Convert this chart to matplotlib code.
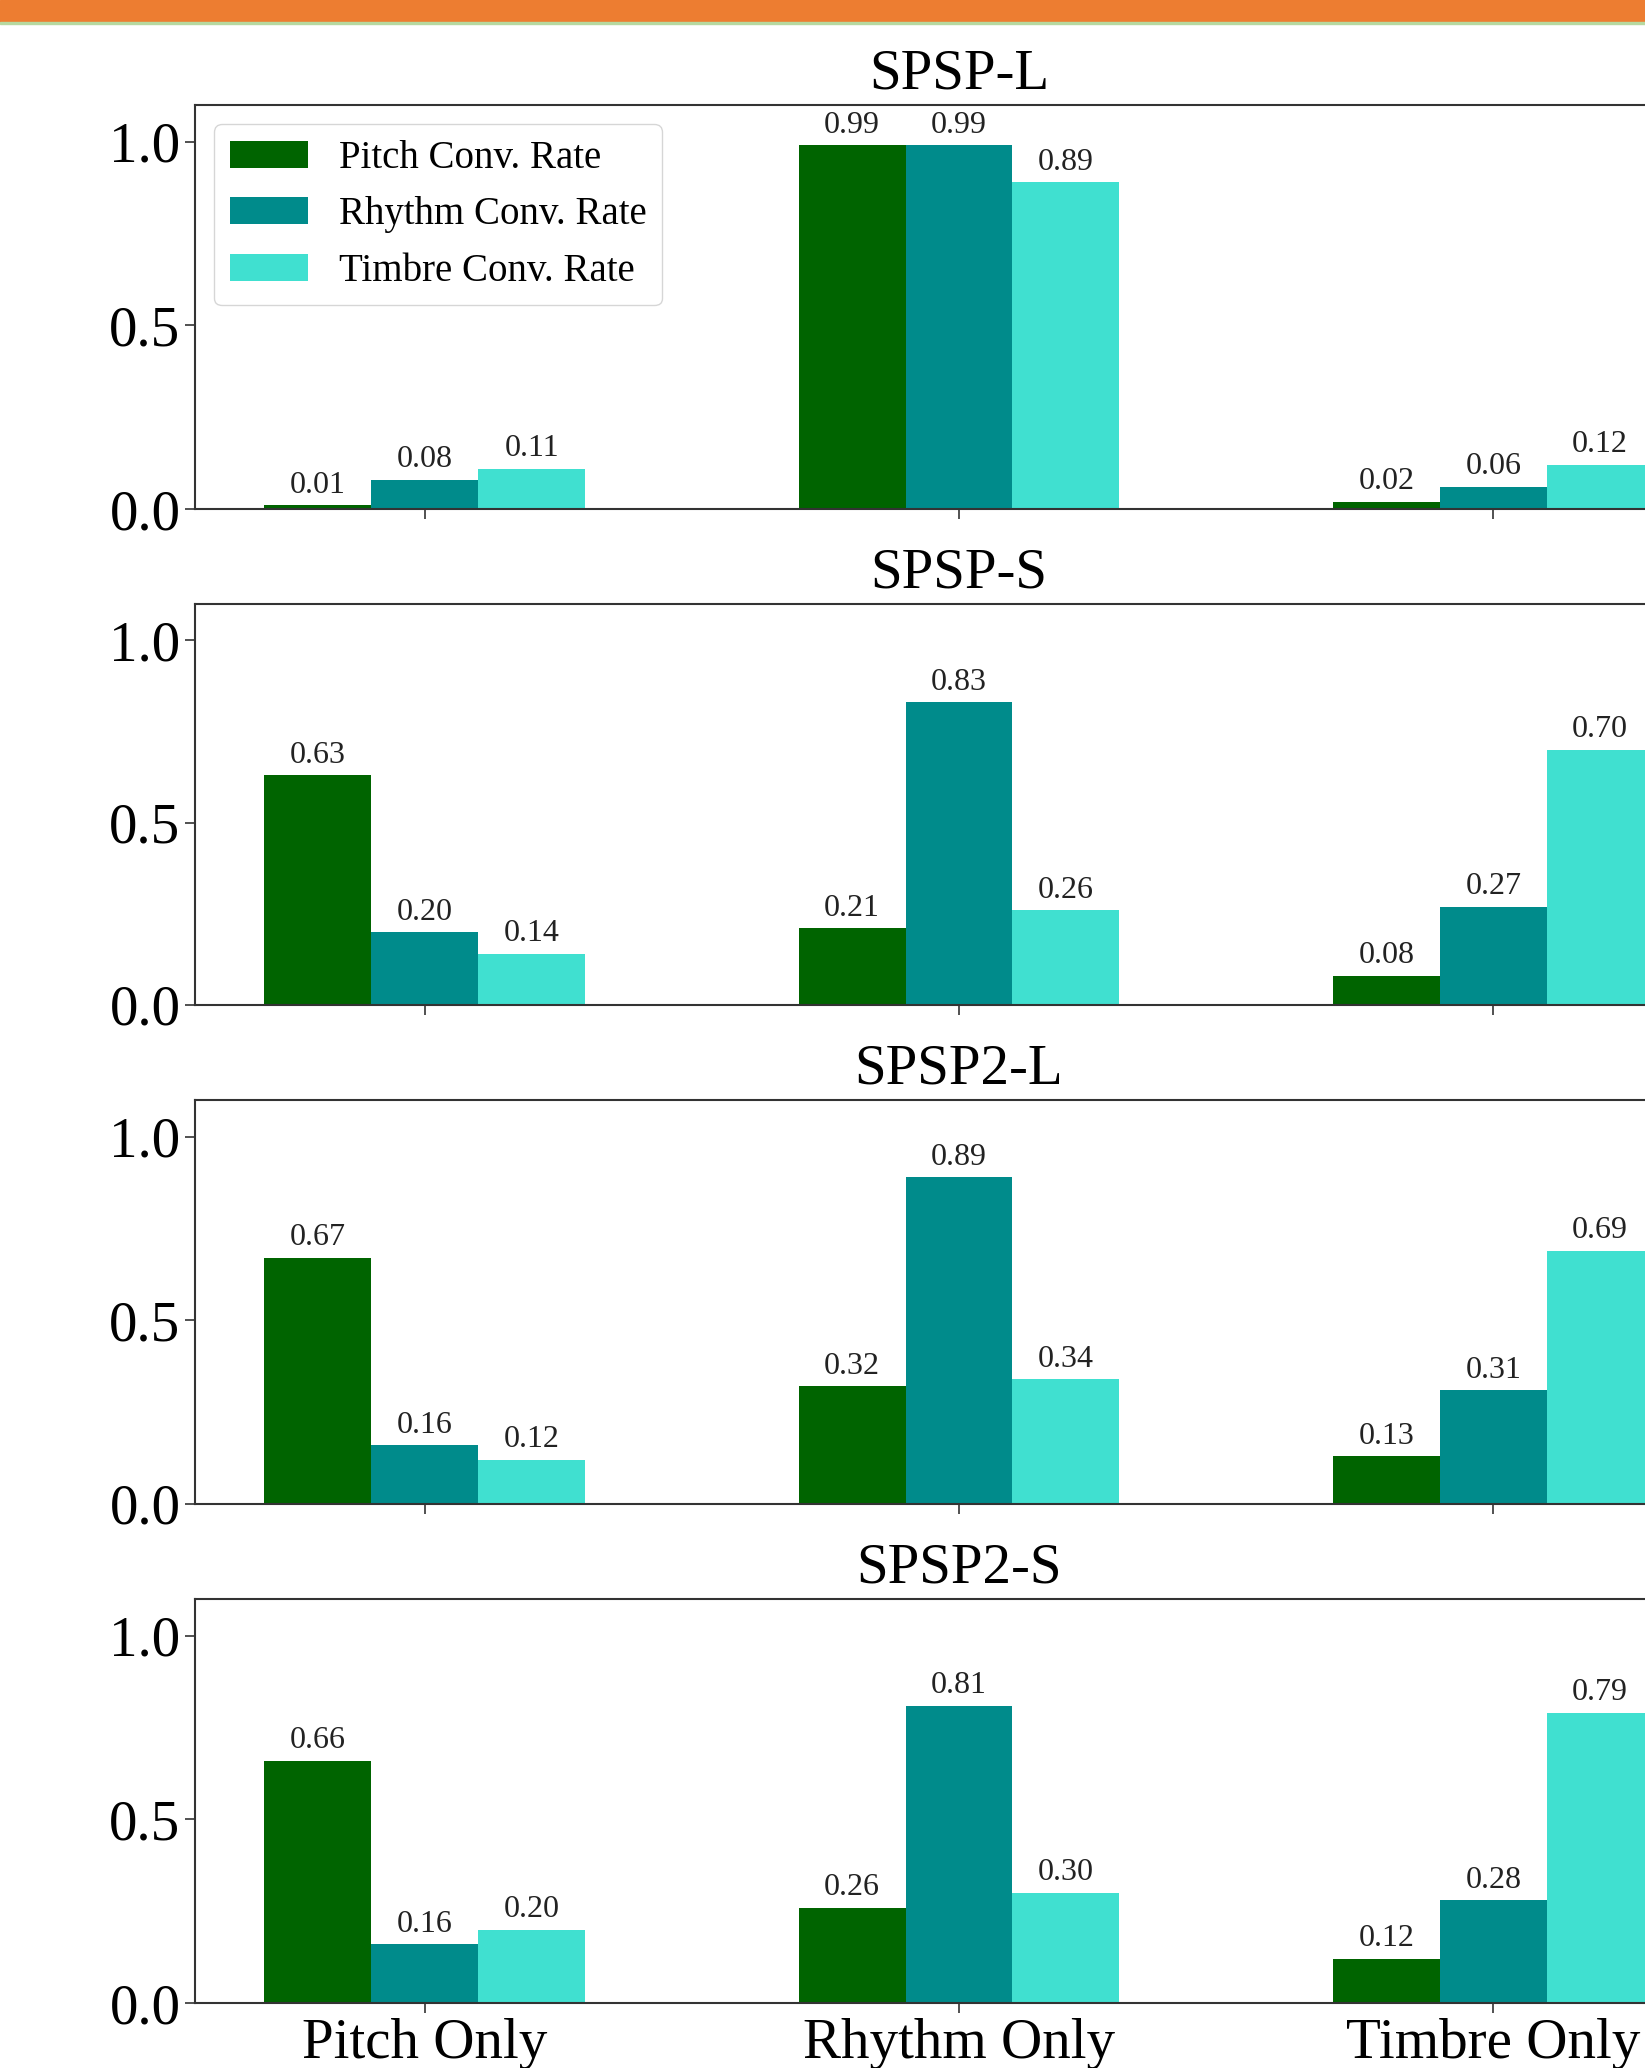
import matplotlib.pyplot as plt
import matplotlib.patches as mpatches
import numpy as np

# dados
grupos = ['Pitch Only', 'Rhythm Only', 'Timbre Only']
paineis = ['SPSP-L', 'SPSP-S', 'SPSP2-L', 'SPSP2-S']
series = ['Pitch Conv. Rate', 'Rhythm Conv. Rate', 'Timbre Conv. Rate']

pitch_rate = [[0.01, 0.99, 0.02],
              [0.63, 0.21, 0.08],
              [0.67, 0.32, 0.13],
              [0.66, 0.26, 0.12]]
rhythm_rate = [[0.08, 0.99, 0.06],
               [0.20, 0.83, 0.27],
               [0.16, 0.89, 0.31],
               [0.16, 0.81, 0.28]]
timbre_rate = [[0.11, 0.89, 0.12],
               [0.14, 0.26, 0.70],
               [0.12, 0.34, 0.69],
               [0.20, 0.30, 0.79]]

cores = ['darkgreen', 'darkcyan', 'turquoise']

plt.rcParams.update({'font.family': 'Liberation Serif', 'axes.linewidth': 1.5,
                     'axes.edgecolor': '#333333'})

W, H = 1645, 2068
fig = plt.figure(figsize=(W / 100, H / 100), dpi=100)

# faixa laranja no topo
fig.patches.append(mpatches.Rectangle((0, 1 - 22 / H), 1, 22 / H, transform=fig.transFigure,
                                      color='#ED7D31', zorder=0))
fig.patches.append(mpatches.Rectangle((0, 1 - 24 / H), 1, 2 / H, transform=fig.transFigure,
                                      color='#b7d9a0', zorder=0))

# posicoes (px) de cada painel: topo, base
limites = [(105, 509), (604, 1005), (1100, 1504), (1599, 2003)]
esq, dir_ = 195, 1723

x = np.arange(len(grupos))
larg = 0.2

for i, nome in enumerate(paineis):
    topo, base = limites[i]
    ax = fig.add_axes([esq / W, 1 - base / H, (dir_ - esq) / W, (base - topo) / H])
    valores = [pitch_rate[i], rhythm_rate[i], timbre_rate[i]]
    for j, serie in enumerate(series):
        bars = ax.bar(x + (j - 1) * larg, valores[j], larg, color=cores[j], label=serie)
        ax.bar_label(bars, labels=[f'{v:.2f}' for v in valores[j]], padding=4, fontsize=23,
                     color='#222222')
    ax.set_ylim(0, 1.1)
    ax.set_yticks([0.0, 0.5, 1.0])
    ax.set_xticks(x)
    if i == len(paineis) - 1:
        ax.set_xticklabels(grupos)
    else:
        ax.set_xticklabels([])
    ax.tick_params(axis='both', labelsize=41, length=7, width=1.2, color='#333333')
    ax.set_title(nome, fontsize=41, pad=12)
    if i == 0:
        ax.legend(loc='upper left', fontsize=28)

fig.savefig('out.png', dpi=100)
